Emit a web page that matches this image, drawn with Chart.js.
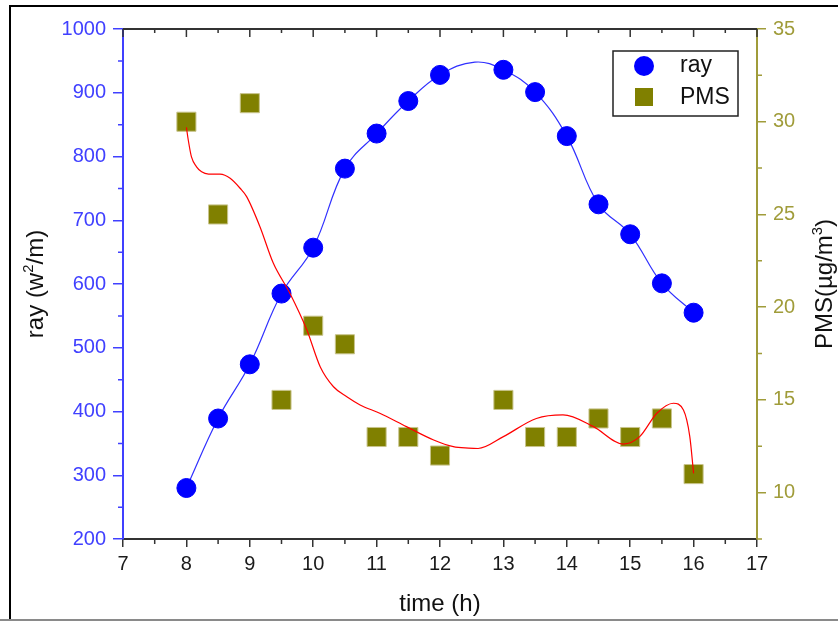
<!DOCTYPE html>
<html>
<head>
<meta charset="utf-8">
<script src="https://cdn.jsdelivr.net/npm/chart.js@4.4.1/dist/chart.umd.min.js"></script>
<style>
body { margin: 0; background: #fff; }
#wrap { width: 838px; height: 622px; }
</style>
</head>
<body>
<div id="wrap"><canvas id="canvas" width="838" height="622"></canvas></div>
<script>
var hours = [8, 8.5, 9, 9.5, 10, 10.5, 11, 11.5, 12, 13, 13.5, 14, 14.5, 15, 15.5, 16];
var ray = [280, 389, 474, 585, 657, 781, 836, 887, 928, 936, 901, 832, 725, 678, 601, 555];
var pms = [30, 25, 31, 15, 19, 18, 13, 13, 12, 15, 13, 13, 14, 13, 14, 11];

// fitted curves
var rayFitHours = [8, 8.5, 9, 9.5, 10, 10.5, 11, 11.5, 12, 12.55, 13, 13.5, 14, 14.5, 15, 15.5, 16];
var rayFit = [280, 389, 474, 585, 657, 781, 836, 887, 928, 948, 936, 901, 832, 725, 678, 601, 555];
var pmsFitHours = [8, 8.03, 8.08, 8.16, 8.24, 8.35, 8.53, 8.69, 8.85, 8.95, 9.16, 9.37, 9.63, 9.9, 10.11, 10.32, 10.53, 10.74, 11.05, 11.47, 11.9, 12.21, 12.45, 12.6, 13, 13.52, 13.94, 14.42, 14.89, 15.15, 15.42, 15.68, 15.84, 15.94, 16];
var pmsFit = [29.7, 29.0, 28.1, 27.57, 27.3, 27.18, 27.17, 26.95, 26.4, 25.96, 24.34, 22.38, 20.76, 18.77, 16.79, 15.71, 15.17, 14.73, 14.28, 13.56, 12.84, 12.48, 12.4, 12.38, 13.02, 14.0, 14.19, 13.56, 12.62, 13.02, 14.28, 14.82, 14.45, 13.02, 11.04];

var xTicks = [7, 8, 9, 10, 11, 12, 13, 14, 15, 16, 17];
var rayTicks = [200, 300, 400, 500, 600, 700, 800, 900, 1000];
var pmsTicks = [10, 15, 20, 25, 30, 35];

var FONT = "Arial, 'Liberation Sans', sans-serif";
var BLUE_AXIS = '#4040ff';
var OLIVE_AXIS = '#a09c3a';

function pts(xs, ys) {
    return xs.map(function(x, i) { return { x: x, y: ys[i] }; });
}

function drawRich(c, parts, cx, cy, size) {
    // parts: [text, isSup]
    var w = 0;
    parts.forEach(function(p) {
        c.font = (p[1] ? size * 0.62 : size) + 'px ' + FONT;
        w += c.measureText(p[0]).width;
    });
    var x = cx - w / 2;
    c.textBaseline = 'alphabetic';
    c.textAlign = 'left';
    parts.forEach(function(p) {
        c.font = (p[1] ? size * 0.62 : size) + 'px ' + FONT;
        c.fillText(p[0], x, cy + size * 0.36 - (p[1] ? size * 0.42 : 0));
        x += c.measureText(p[0]).width;
    });
}

var decor = {
    id: 'decor',
    beforeDraw: function(chart) {
        var c = chart.ctx;
        c.save();
        c.fillStyle = '#fff';
        c.fillRect(0, 0, chart.width, chart.height);
        c.restore();
    },
    afterDraw: function(chart) {
        var c = chart.ctx, a = chart.chartArea;
        var sx = chart.scales.x, sy = chart.scales.y, sy1 = chart.scales.y1;
        c.save();
        // outer frame
        c.lineWidth = 2;
        c.strokeStyle = '#000';
        c.beginPath();
        c.moveTo(9, 6); c.lineTo(838, 6);
        c.moveTo(10, 5); c.lineTo(10, 620);
        c.stroke();
        c.strokeStyle = '#8a8a8a';
        c.beginPath();
        c.moveTo(0, 620); c.lineTo(838, 620);
        c.stroke();

        // top axis with inward ticks
        c.strokeStyle = '#333';
        c.lineWidth = 2;
        c.beginPath();
        c.moveTo(a.left, a.top); c.lineTo(a.right, a.top);
        c.stroke();
        c.lineWidth = 1.5;
        c.beginPath();
        xTicks.forEach(function(v, i) {
            var px = sx.getPixelForValue(v);
            c.moveTo(px, a.top); c.lineTo(px, a.top + 8);
            if (i < xTicks.length - 1) {
                var mx = sx.getPixelForValue((v + xTicks[i + 1]) / 2);
                c.moveTo(mx, a.top); c.lineTo(mx, a.top + 4);
                c.moveTo(mx, a.bottom); c.lineTo(mx, a.bottom + 5);
            }
        });
        c.stroke();
        // left minor ticks
        c.strokeStyle = BLUE_AXIS;
        c.beginPath();
        rayTicks.forEach(function(v, i) {
            if (i < rayTicks.length - 1) {
                var my = sy.getPixelForValue((v + rayTicks[i + 1]) / 2);
                c.moveTo(a.left - 5, my); c.lineTo(a.left, my);
            }
        });
        c.stroke();
        // right minor ticks
        c.strokeStyle = OLIVE_AXIS;
        c.beginPath();
        [7.5].concat(pmsTicks.slice(0, -1).map(function(v, i) { return (v + pmsTicks[i + 1]) / 2; })).forEach(function(v) {
            var my = sy1.getPixelForValue(v);
            c.moveTo(a.right, my); c.lineTo(a.right + 5, my);
        });
        c.stroke();

        // axis titles
        var cy = (a.top + a.bottom) / 2;
        c.fillStyle = '#111';
        drawRich(c, [['time (h)', false]], (a.left + a.right) / 2, 602, 24);
        c.save();
        c.translate(34, cy);
        c.rotate(-Math.PI / 2);
        drawRich(c, [['ray (w', false], ['2', true], ['/m)', false]], 0, 0, 24);
        c.restore();
        c.save();
        c.translate(823, cy);
        c.rotate(-Math.PI / 2);
        drawRich(c, [['PMS(\u00b5g/m', false], ['3', true], [')', false]], 0, 0, 24);
        c.restore();

        // legend
        var bx = a.right - 144, by = a.top + 22;
        c.fillStyle = '#fff';
        c.fillRect(bx, by, 125, 65);
        c.strokeStyle = '#222';
        c.lineWidth = 1.5;
        c.strokeRect(bx, by, 125, 65);
        var dsRay = chart.data.datasets[2], dsPms = chart.data.datasets[1];
        c.fillStyle = dsRay.backgroundColor;
        c.beginPath();
        c.arc(bx + 31, by + 15, 10, 0, Math.PI * 2);
        c.fill();
        c.fillStyle = dsPms.backgroundColor;
        c.fillRect(bx + 31 - 9, by + 46 - 9, 18, 18);
        c.fillStyle = '#111';
        c.font = '23px ' + FONT;
        c.textAlign = 'left';
        c.textBaseline = 'middle';
        c.fillText('ray', bx + 67, by + 15);
        c.fillText('PMS', bx + 67, by + 47);
        c.restore();
    }
};

var ctx = document.getElementById('canvas').getContext('2d');
window.myChart = new Chart(ctx, {
    type: 'scatter',
    data: {
        datasets: [{
            label: 'PMS fit',
            data: pts(pmsFitHours, pmsFit),
            yAxisID: 'y1',
            showLine: true,
            borderColor: '#ff0000',
            borderWidth: 1.2,
            pointRadius: 0,
            cubicInterpolationMode: 'monotone',
            order: 0
        }, {
            label: 'PMS',
            data: pts(hours, pms),
            yAxisID: 'y1',
            pointStyle: 'rect',
            pointRadius: 13.5,
            backgroundColor: '#808000',
            borderColor: '#c8c48c',
            borderWidth: 1,
            order: 1
        }, {
            label: 'ray',
            data: pts(hours, ray),
            yAxisID: 'y',
            pointStyle: 'circle',
            pointRadius: 9.5,
            backgroundColor: '#0000ff',
            borderColor: '#0000ff',
            borderWidth: 1,
            order: 2
        }, {
            label: 'ray fit',
            data: pts(rayFitHours, rayFit),
            yAxisID: 'y',
            showLine: true,
            borderColor: '#3030ff',
            borderWidth: 1.2,
            pointRadius: 0,
            tension: 0.4,
            order: 3
        }]
    },
    options: {
        responsive: false,
        animation: false,
        events: [],
        layout: { padding: { top: 29, left: 0, right: 0, bottom: 0 } },
        plugins: {
            legend: { display: false },
            tooltip: { enabled: false }
        },
        scales: {
            x: {
                type: 'linear',
                position: 'bottom',
                min: 7,
                max: 17,
                afterBuildTicks: function(s) { s.ticks = xTicks.map(function(v) { return { value: v }; }); },
                afterFit: function(s) { s.height = 83; },
                grid: { display: true, drawOnChartArea: false, tickLength: 8, color: '#333', lineWidth: 1.5 },
                border: { color: '#333', width: 2 },
                ticks: {
                    color: '#1a1a1a', font: { family: FONT, size: 20 }, padding: 5,
                    autoSkip: false, maxRotation: 0,
                    callback: function(v) { return String(v); }
                }
            },
            y: {
                type: 'linear',
                position: 'left',
                min: 200,
                max: 1000,
                afterBuildTicks: function(s) { s.ticks = rayTicks.map(function(v) { return { value: v }; }); },
                afterFit: function(s) { s.width = 123; },
                grid: { display: true, drawOnChartArea: false, tickLength: 10, color: BLUE_AXIS, lineWidth: 1.5 },
                border: { color: BLUE_AXIS, width: 2 },
                ticks: {
                    color: BLUE_AXIS, font: { family: FONT, size: 20 }, padding: 7,
                    callback: function(v) { return String(v); }
                }
            },
            y1: {
                type: 'linear',
                position: 'right',
                min: 7.5,
                max: 35,
                afterBuildTicks: function(s) { s.ticks = pmsTicks.map(function(v) { return { value: v }; }); },
                afterFit: function(s) { s.width = 81; },
                grid: { display: true, drawOnChartArea: false, tickLength: 9, color: OLIVE_AXIS, lineWidth: 1.5 },
                border: { color: OLIVE_AXIS, width: 2 },
                ticks: {
                    color: OLIVE_AXIS, font: { family: FONT, size: 20 }, padding: 7,
                    callback: function(v) { return String(v); }
                }
            }
        }
    },
    plugins: [decor]
});
</script>
</body>
</html>
